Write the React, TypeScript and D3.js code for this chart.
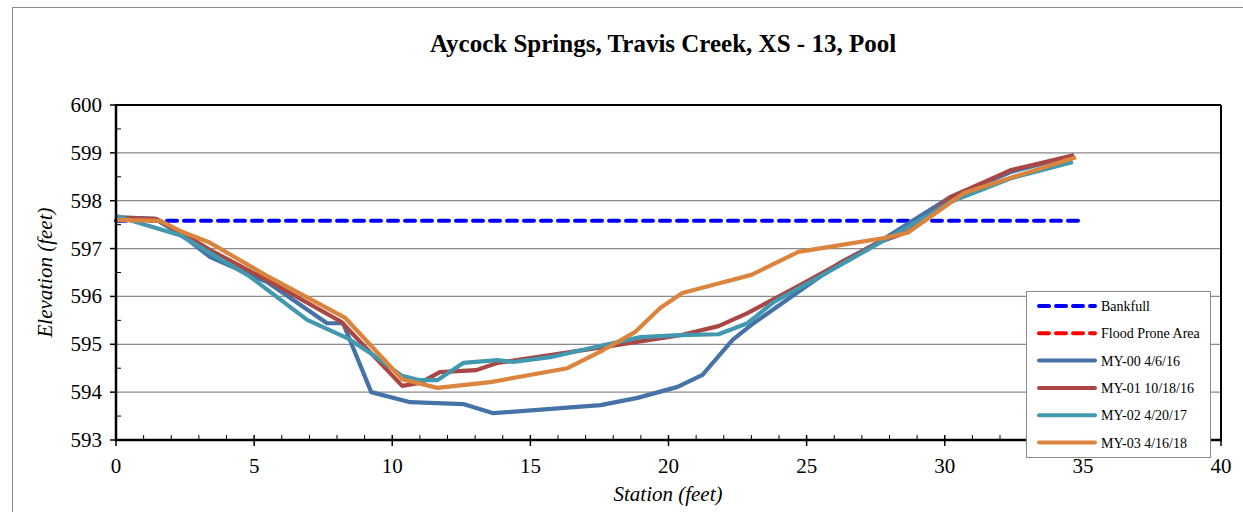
import React from "react";
import * as d3 from "d3";

const title = "Aycock Springs, Travis Creek, XS - 13, Pool";
const xTicks = [0, 5, 10, 15, 20, 25, 30, 35, 40];
const yTicks = [593, 594, 595, 596, 597, 598, 599, 600];

const bankfullX = [0, 34.85];
const bankfullY = [597.58, 597.58];

const my00X = [0, 1.41, 2.39, 3.41, 5.47, 7.64, 8.22, 9.24, 10.65, 12.57, 13.66, 17.54, 18.88, 20.33, 21.23, 22.32, 23.08, 24.78, 26.2, 27.57, 30.22, 32.39, 34.67];
const my00Y = [597.66, 597.62, 597.28, 596.82, 596.3, 595.44, 595.44, 594.0, 593.79, 593.75, 593.56, 593.73, 593.88, 594.11, 594.36, 595.09, 595.44, 596.13, 596.7, 597.12, 598.08, 598.6, 598.95];

const my01X = [0, 1.45, 2.39, 3.41, 5.47, 8.15, 10.36, 11.0, 11.72, 13.04, 13.8, 17.4, 20.43, 21.81, 22.86, 24.78, 26.23, 27.57, 28.66, 30.22, 32.39, 34.67];
const my01Y = [597.64, 597.62, 597.33, 596.97, 596.34, 595.47, 594.13, 594.19, 594.42, 594.46, 594.61, 594.92, 595.19, 595.38, 595.65, 596.24, 596.7, 597.12, 597.35, 598.08, 598.64, 598.95];

const my02X = [0, 2.32, 4.86, 6.92, 8.37, 9.2, 10.36, 11.0, 11.63, 12.57, 13.8, 14.38, 15.72, 17.64, 18.99, 20.43, 21.81, 22.86, 23.8, 25.25, 28.66, 30.22, 32.39, 34.64];
const my02Y = [597.68, 597.28, 596.41, 595.51, 595.13, 594.82, 594.34, 594.25, 594.25, 594.61, 594.67, 594.63, 594.73, 594.98, 595.15, 595.19, 595.21, 595.44, 595.88, 596.34, 597.45, 597.98, 598.47, 598.81];

const my03X = [0, 1.6, 2.39, 3.41, 5.4, 8.3, 10.36, 11.63, 13.55, 16.34, 17.64, 18.8, 19.7, 20.5, 21.6, 23.0, 24.7, 26.0, 27.8, 28.66, 30.7, 32.5, 34.75];
const my03Y = [597.6, 597.58, 597.35, 597.12, 596.45, 595.55, 594.27, 594.09, 594.21, 594.5, 594.88, 595.26, 595.76, 596.07, 596.24, 596.45, 596.93, 597.05, 597.22, 597.33, 598.16, 598.5, 598.91];

const legendLabels = ["Bankfull", "Flood Prone Area", "MY-00 4/6/16", "MY-01 10/18/16", "MY-02 4/20/17", "MY-03 4/16/18"];
const legendColors = ["#0000FF", "#FF0000", "#4572A7", "#AA4643", "#4198AF", "#DB843D"];

const W = 1243;
const H = 512;
const left = 116;
const right = 1221;
const top = 105;
const bottom = 440;

export default function App() {
  const x = d3.scaleLinear().domain([0, 40]).range([left, right]);
  const y = d3.scaleLinear().domain([593, 600]).range([bottom, top]);
  const line = d3
    .line<[number, number]>()
    .x((d) => x(d[0]))
    .y((d) => y(d[1]));
  const zip = (xs: number[], ys: number[]) => xs.map((v, i) => [v, ys[i]] as [number, number]);

  const series = [
    { xs: my00X, ys: my00Y, color: legendColors[2] },
    { xs: my01X, ys: my01Y, color: legendColors[3] },
    { xs: my02X, ys: my02Y, color: legendColors[4] },
    { xs: my03X, ys: my03Y, color: legendColors[5] },
  ];

  const minorY = d3.range(593.5, 600, 1);
  const minorX = d3.range(0, 41, 1).filter((v) => v % 5 !== 0);
  const font = "'Liberation Serif', 'Times New Roman', serif";

  const legX = 1026;
  const legY = 291;
  const legW = 184;
  const legH = 166;
  const rowY = (i: number) => 306 + i * 27.3;

  return (
    <div style={{ position: "fixed", left: 0, top: 0 }}>
      <svg width={W} height={H} style={{ display: "block", background: "#fff" }} fontFamily={font}>
        <rect x={0} y={0} width={W} height={H} fill="#fff" />
        {/* outer chart border */}
        <line x1={12.5} y1={7} x2={12.5} y2={H} stroke="#8c8c8c" strokeWidth={1} />
        <line x1={12} y1={7.5} x2={W} y2={7.5} stroke="#8c8c8c" strokeWidth={1} />

        <text x={663} y={52} textAnchor="middle" fontSize={25} fontWeight="bold" fill="#000">
          {title}
        </text>

        {/* gridlines */}
        {yTicks.slice(1, -1).map((t) => (
          <line key={"g" + t} x1={left} x2={right} y1={y(t)} y2={y(t)} stroke="#8a8a8a" strokeWidth={1.2} />
        ))}
        {/* plot border top & right */}
        <line x1={left} x2={right} y1={top} y2={top} stroke="#000" strokeWidth={2} />
        <line x1={right} x2={right} y1={top} y2={bottom} stroke="#000" strokeWidth={2} />

        {/* bankfull */}
        <path
          d={line(zip(bankfullX, bankfullY)) || ""}
          fill="none"
          stroke={legendColors[0]}
          strokeWidth={4}
          strokeDasharray="10 7"
          strokeLinecap="round"
        />
        {series.map((s, i) => (
          <path
            key={i}
            d={line(zip(s.xs, s.ys)) || ""}
            fill="none"
            stroke={s.color}
            strokeWidth={4.2}
            strokeLinejoin="round"
          />
        ))}

        {/* axes */}
        <line x1={left} x2={left} y1={top - 1} y2={bottom + 1} stroke="#000" strokeWidth={2.5} />
        <line x1={left - 1} x2={right + 1} y1={bottom} y2={bottom} stroke="#000" strokeWidth={2.5} />
        {yTicks.map((t) => (
          <g key={"yt" + t}>
            <line x1={left - 6} x2={left} y1={y(t)} y2={y(t)} stroke="#000" strokeWidth={1.5} />
            <text x={left - 14} y={y(t) + 7} textAnchor="end" fontSize={21} fill="#000">
              {t}
            </text>
          </g>
        ))}
        {minorY.map((t) => (
          <line key={"ym" + t} x1={left} x2={left + 5} y1={y(t)} y2={y(t)} stroke="#000" strokeWidth={1} />
        ))}
        {xTicks.map((t) => (
          <g key={"xt" + t}>
            <line x1={x(t)} x2={x(t)} y1={bottom - 5} y2={bottom + 6} stroke="#000" strokeWidth={1.5} />
            <text x={x(t)} y={bottom + 33} textAnchor="middle" fontSize={21} fill="#000">
              {t}
            </text>
          </g>
        ))}
        {minorX.map((t) => (
          <line key={"xm" + t} x1={x(t)} x2={x(t)} y1={bottom - 5} y2={bottom} stroke="#000" strokeWidth={1} />
        ))}

        <text
          transform={`translate(52, ${(top + bottom) / 2}) rotate(-90)`}
          textAnchor="middle"
          fontSize={21}
          fontStyle="italic"
          fill="#000"
        >
          Elevation (feet)
        </text>
        <text x={668} y={501} textAnchor="middle" fontSize={21} fontStyle="italic" fill="#000">
          Station (feet)
        </text>

        {/* legend */}
        <rect x={legX + 0.5} y={legY + 0.5} width={legW} height={legH} fill="#fff" stroke="#8c8c8c" strokeWidth={1} />
        {legendLabels.map((lab, i) => (
          <g key={lab}>
            <line
              x1={1039}
              x2={1095}
              y1={rowY(i)}
              y2={rowY(i)}
              stroke={legendColors[i]}
              strokeWidth={4}
              strokeLinecap="round"
              strokeDasharray={i < 2 ? "10 7" : undefined}
            />
            <text x={1101} y={rowY(i) + 5} fontSize={14} fill="#000">
              {lab}
            </text>
          </g>
        ))}
      </svg>
    </div>
  );
}
